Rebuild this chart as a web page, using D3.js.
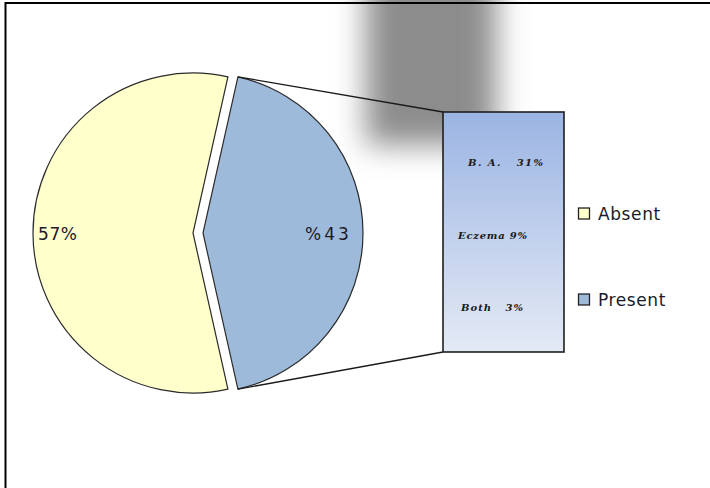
<!DOCTYPE html>
<html><head><meta charset="utf-8">
<script src="https://cdn.jsdelivr.net/npm/d3@7/dist/d3.min.js"></script>
<style>html,body{margin:0;padding:0;background:#fff;}svg{display:block;}</style>
</head><body>
<svg id="c" width="710" height="488"></svg>
<script>
const categories = ["Absent", "Present"];
const values = [57, 43];
const sliceLabels = ["57%", "%43"];
const breakdownNames = ["B. A.", "Eczema", "Both"];
const breakdownValues = [31, 9, 3];

const svg = d3.select("#c");
const defs = svg.append("defs");
defs.append("filter").attr("id","blur").attr("x","-60%").attr("y","-60%").attr("width","220%").attr("height","220%")
  .append("feGaussianBlur").attr("stdDeviation", 15);
const grad = defs.append("linearGradient").attr("id","boxg").attr("x1",0).attr("y1",0).attr("x2",0).attr("y2",1);
grad.append("stop").attr("offset","0%").attr("stop-color","#9bb4e3");
grad.append("stop").attr("offset","100%").attr("stop-color","#e4eaf5");

const colors = d3.scaleOrdinal().domain(categories).range(["#ffffcc", "#9ebada"]);

// blurred shadow
svg.append("rect").attr("x",366).attr("y",-50).attr("width",130).attr("height",195)
  .attr("fill","#8c8c8c").attr("filter","url(#blur)");

// frame
svg.append("rect").attr("x",5.5).attr("y",3).attr("width",760).attr("height",520)
  .attr("fill","none").attr("stroke","#000").attr("stroke-width",2);

const cx = 193, cy = 233, r = 160, explode = 10;
const startA = Math.PI/2 - (values[1]/100)*Math.PI;
const pie = d3.pie().sort(null).value(i => values[i]).startAngle(startA).endAngle(startA + 2*Math.PI);
const arcs = pie([1, 0]);
const arc = d3.arc().innerRadius(0).outerRadius(r);

const g = svg.append("g").attr("transform", `translate(${cx},${cy})`);
arcs.forEach(a => {
  const i = a.data;
  const mid = (a.startAngle + a.endAngle)/2;
  const off = i === 1 ? explode : 0;
  const dx = Math.sin(mid)*off, dy = -Math.cos(mid)*off;
  a.dx = dx; a.dy = dy;
  g.append("path").attr("d", arc(a)).attr("transform", `translate(${dx},${dy})`)
    .attr("fill", colors(categories[i])).attr("stroke", "#2b2b2b").attr("stroke-width", 1.2);
});

// labels
const lab = [{i:0, x:38, y:240, ls:0.6, fs:17}, {i:1, x:305, y:240, ls:3, fs:17}];
lab.forEach(l => {
  svg.append("text").attr("x", l.x).attr("y", l.y).text(sliceLabels[l.i])
    .attr("font-family", "DejaVu Sans, sans-serif").attr("font-size", l.fs)
    .attr("letter-spacing", l.ls).attr("fill", "#1a1a2a");
});

// box
const bx = 443, by = 112, bw = 121, bh = 240;
const pres = arcs.find(a => a.data === 1);
const p0 = [cx + pres.dx + r*Math.sin(pres.startAngle), cy + pres.dy - r*Math.cos(pres.startAngle)];
const p1 = [cx + pres.dx + r*Math.sin(pres.endAngle), cy + pres.dy - r*Math.cos(pres.endAngle)];
svg.append("line").attr("x1", p0[0]).attr("y1", p0[1]).attr("x2", bx).attr("y2", by)
  .attr("stroke", "#1a1a1a").attr("stroke-width", 1.3);
svg.append("line").attr("x1", p1[0]).attr("y1", p1[1]).attr("x2", bx).attr("y2", by+bh)
  .attr("stroke", "#1a1a1a").attr("stroke-width", 1.3);
svg.append("rect").attr("x", bx).attr("y", by).attr("width", bw).attr("height", bh)
  .attr("fill", "url(#boxg)").attr("stroke", "#1f1f1f").attr("stroke-width", 1.6);

const bt = [
  {x:468, y:166, gap:"   ", w:75},
  {x:458, y:239, gap:" ", w:69},
  {x:461, y:311, gap:"   ", w:62}
];
breakdownNames.forEach((n, k) => {
  svg.append("text").attr("x", bt[k].x).attr("y", bt[k].y)
    .attr("xml:space", "preserve").style("white-space", "pre")
    .attr("textLength", bt[k].w).attr("lengthAdjust", "spacing")
    .attr("font-family", "DejaVu Serif, serif").attr("font-style", "italic").attr("font-weight", "bold")
    .attr("font-size", 10).attr("fill", "#1a1a1a")
    .text(n + bt[k].gap + breakdownValues[k] + "%");
});

// legend
const leg = [{y:214}, {y:300}];
categories.forEach((c, i) => {
  svg.append("rect").attr("x", 578.5).attr("y", leg[i].y - 6).attr("width", 11).attr("height", 11)
    .attr("fill", colors(c)).attr("stroke", "#222").attr("stroke-width", 1.3);
  svg.append("text").attr("x", 598).attr("y", leg[i].y + 6).text(c)
    .attr("font-family", "DejaVu Sans, sans-serif").attr("font-size", 17)
    .attr("letter-spacing", 0.6).attr("fill", "#1a1a2a");
});
</script>
</body></html>
